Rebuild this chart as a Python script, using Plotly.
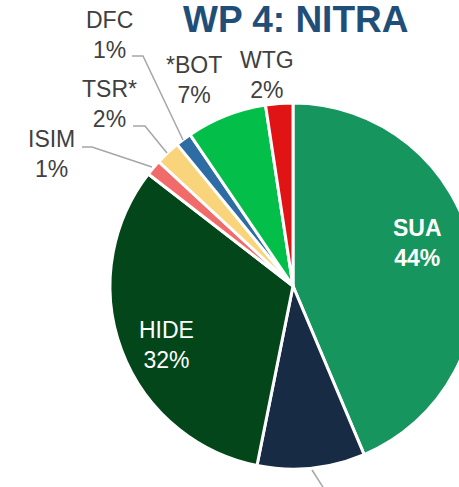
import plotly.graph_objects as go

# ---- data ----
categories = ["SUA", "Other", "HIDE", "ISIM", "TSR*", "DFC", "*BOT", "WTG"]
values = [43.6, 9.5, 32.3, 1.4, 2.2, 1.4, 7.1, 2.4]
colors = ["#16955E", "#172B45", "#03461A", "#F26B6B", "#F9D47A", "#2E6DA4", "#03BE48", "#E01414"]
title_text = "WP 4: NITRA"

# ---- geometry helpers (pixel -> paper) ----
W, H = 586, 487
def px(x):
    return x / W
def py(y):
    return 1 - y / H

cx, cy, R = 293, 286, 183

total = sum(values)
pct = {c: v / total * 100 for c, v in zip(categories, values)}

fig = go.Figure()
fig.add_trace(go.Pie(
    labels=categories,
    values=values,
    sort=False,
    direction="clockwise",
    rotation=0,
    marker=dict(colors=colors, line=dict(color="white", width=3)),
    textinfo="none",
    hoverinfo="label+percent",
    domain=dict(x=[px(cx - R), px(cx + R)], y=[py(cy + R), py(cy - R)]),
    showlegend=False,
))

font_family = "Arial, Liberation Sans, sans-serif"

# label positions (pixel centres)
label_pos = {
    "SUA": (417, 243, "white", True),
    "HIDE": (166, 345, "white", False),
    "DFC": (109, 35, "#404040", False),
    "TSR*": (109, 104, "#404040", False),
    "ISIM": (51, 154, "#404040", False),
    "*BOT": (194, 80, "#404040", False),
    "WTG": (267, 75, "#404040", False),
}
for c, (x, y, col, bold) in label_pos.items():
    txt = f"{c}<br>{round(pct[c]):d}%"
    if bold:
        txt = f"<b>{txt}</b>"
    fig.add_annotation(
        x=px(x), y=py(y), xref="paper", yref="paper",
        text=txt, showarrow=False, xanchor="center", yanchor="middle",
        font=dict(family=font_family, size=23, color=col),
        align="center",
    )

# leader lines
leaders = [
    [(132, 56), (143, 56), (183, 140)],
    [(133, 126), (145, 126), (167, 153)],
    [(82, 147), (92, 147), (152, 167)],
    [(312, 470), (328, 495)],
]
for pts in leaders:
    path = "M " + " L ".join(f"{px(x)},{py(y)}" for x, y in pts)
    fig.add_shape(type="path", path=path, xref="paper", yref="paper",
                  line=dict(color="#A6A6A6", width=1.5))

fig.add_annotation(
    x=px(295), y=py(20), xref="paper", yref="paper",
    text=f"<b>{title_text}</b>", showarrow=False,
    xanchor="center", yanchor="middle",
    font=dict(family=font_family, size=37, color="#1F4E79"),
)

fig.update_layout(
    width=W, height=H,
    margin=dict(l=0, r=0, t=0, b=0),
    paper_bgcolor="white",
    plot_bgcolor="white",
)

fig.write_html("out.html", post_script="document.body.style.overflow='hidden';document.body.style.margin='0';")
